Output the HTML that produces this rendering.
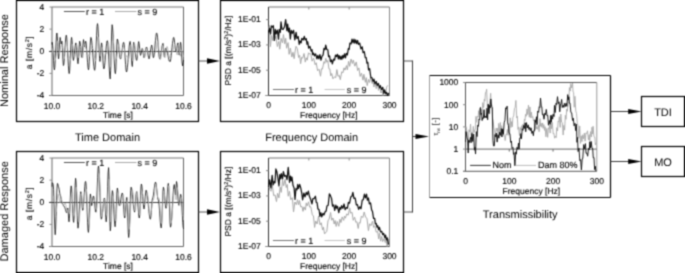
<!DOCTYPE html>
<html><head><meta charset="utf-8"><style>
html,body{margin:0;padding:0;background:#fff;}
svg{display:block;font-family:"Liberation Sans", sans-serif;text-rendering:geometricPrecision;}
text{stroke:#000;stroke-width:0.12px;}
text.big{stroke:none;}
</style></head><body>
<svg width="685" height="273" viewBox="0 0 685 273" xmlns="http://www.w3.org/2000/svg">
<defs><filter id="bl" filterUnits="userSpaceOnUse" x="0" y="0" width="685" height="273" color-interpolation-filters="sRGB"><feConvolveMatrix order="3" kernelMatrix="0.0400 0.1200 0.0400 0.1200 0.3600 0.1200 0.0400 0.1200 0.0400" edgeMode="duplicate"/></filter></defs>
<g filter="url(#bl)">
<rect width="685" height="273" fill="#fff"/>
<rect x="16.5" y="0.5" width="182.0" height="121.0" fill="none" stroke="#000" stroke-width="1.2"/>
<rect x="220.5" y="0.5" width="183.0" height="121.0" fill="none" stroke="#000" stroke-width="1.2"/>
<rect x="16.5" y="151.5" width="182.0" height="121.0" fill="none" stroke="#000" stroke-width="1.2"/>
<rect x="220.5" y="151.5" width="183.0" height="121.0" fill="none" stroke="#000" stroke-width="1.2"/>
<line x1="429.5" y1="75.5" x2="610.5" y2="75.5" stroke="#000" stroke-width="1.2"/>
<line x1="610.5" y1="75.5" x2="610.5" y2="197.5" stroke="#000" stroke-width="1.2"/>
<line x1="429.5" y1="197.5" x2="610.5" y2="197.5" stroke="#000" stroke-width="1.2"/>
<line x1="429.5" y1="75.5" x2="429.5" y2="197.5" stroke="#999" stroke-width="1"/>
<rect x="641.5" y="96.5" width="43.0" height="30.0" fill="none" stroke="#000" stroke-width="1.2"/>
<rect x="641.5" y="146.5" width="43.0" height="30.0" fill="none" stroke="#000" stroke-width="1.2"/>
<line x1="198.5" y1="61" x2="208" y2="61" stroke="#555" stroke-width="1"/>
<path d="M207,58.2 L220,61 L207,63.8 Z" fill="#000"/>
<line x1="198.5" y1="212" x2="208" y2="212" stroke="#555" stroke-width="1"/>
<path d="M207,209.2 L220,212 L207,214.8 Z" fill="#000"/>
<line x1="403.5" y1="61" x2="412.5" y2="61" stroke="#555" stroke-width="1"/>
<line x1="403.5" y1="212" x2="412.5" y2="212" stroke="#555" stroke-width="1"/>
<line x1="412.5" y1="60.5" x2="412.5" y2="212.5" stroke="#3a3a3a" stroke-width="1"/>
<line x1="412.5" y1="136.5" x2="416.5" y2="136.5" stroke="#3a3a3a" stroke-width="1"/>
<path d="M415.5,133.9 L429,136.5 L415.5,139.1 Z" fill="#000"/>
<line x1="610.5" y1="111.5" x2="629.2" y2="111.5" stroke="#3a3a3a" stroke-width="1"/>
<path d="M628.2,108.9 L641.6,111.5 L628.2,114.1 Z" fill="#000"/>
<line x1="610.5" y1="161.5" x2="629.2" y2="161.5" stroke="#3a3a3a" stroke-width="1"/>
<path d="M628.2,158.9 L641.6,161.5 L628.2,164.1 Z" fill="#000"/>
<text class="big" transform="translate(7.9,60.5) rotate(-90)" font-size="11" text-anchor="middle" fill="#000">Nominal Response</text>
<text class="big" transform="translate(7.9,211.3) rotate(-90)" font-size="11" text-anchor="middle" fill="#000">Damaged Response</text>
<text class="big" x="107.5" y="140.8" font-size="11" text-anchor="middle" fill="#000" >Time Domain</text>
<text class="big" x="311.7" y="140.8" font-size="11" text-anchor="middle" fill="#000" >Frequency Domain</text>
<text class="big" x="520.2" y="218.1" font-size="11" text-anchor="middle" fill="#000" >Transmissibility</text>
<text class="big" x="663" y="115.5" font-size="11" text-anchor="middle" fill="#000" >TDI</text>
<text class="big" x="663" y="165.5" font-size="11" text-anchor="middle" fill="#000" >MO</text>
<line x1="52.0" y1="7.0" x2="183.5" y2="7.0" stroke="#777" stroke-width="1"/>
<line x1="52.0" y1="7.0" x2="52.0" y2="95.5" stroke="#666" stroke-width="1"/>
<line x1="183.5" y1="7.0" x2="183.5" y2="95.5" stroke="#666" stroke-width="1"/>
<line x1="49.0" y1="95.5" x2="183.5" y2="95.5" stroke="#666" stroke-width="1"/>
<line x1="49.5" y1="7.0" x2="52.0" y2="7.0" stroke="#8a8a8a" stroke-width="1"/>
<text x="44.3" y="9.9" font-size="8.5" text-anchor="end" fill="#000" >4</text>
<line x1="49.5" y1="29.125" x2="52.0" y2="29.125" stroke="#8a8a8a" stroke-width="1"/>
<text x="44.3" y="32.025" font-size="8.5" text-anchor="end" fill="#000" >2</text>
<line x1="49.5" y1="51.25" x2="52.0" y2="51.25" stroke="#8a8a8a" stroke-width="1"/>
<text x="44.3" y="54.15" font-size="8.5" text-anchor="end" fill="#000" >0</text>
<line x1="49.5" y1="73.375" x2="52.0" y2="73.375" stroke="#8a8a8a" stroke-width="1"/>
<text x="44.3" y="76.275" font-size="8.5" text-anchor="end" fill="#000" >-2</text>
<line x1="49.5" y1="95.5" x2="52.0" y2="95.5" stroke="#8a8a8a" stroke-width="1"/>
<text x="44.3" y="98.4" font-size="8.5" text-anchor="end" fill="#000" >-4</text>
<text x="52.0" y="108.7" font-size="8.5" text-anchor="middle" fill="#000" >10.0</text>
<text x="95.83333333333334" y="108.7" font-size="8.5" text-anchor="middle" fill="#000" >10.2</text>
<text x="139.66666666666669" y="108.7" font-size="8.5" text-anchor="middle" fill="#000" >10.4</text>
<text x="183.5" y="108.7" font-size="8.5" text-anchor="middle" fill="#000" >10.6</text>
<text x="118.0" y="118.4" font-size="8.5" text-anchor="middle" fill="#000" >Time [s]</text>
<text transform="translate(32.4,52.75) rotate(-90)" font-size="8.5" text-anchor="middle" fill="#000" textLength="33" lengthAdjust="spacing">a [m/s<tspan font-size="5.5" dy="-3">2</tspan><tspan dy="3">]</tspan></text>
<line x1="63.9" y1="11.5" x2="84.8" y2="11.5" stroke="#555" stroke-width="1"/>
<text x="86.0" y="14.8" font-size="9" text-anchor="start" fill="#000" >r = 1</text>
<line x1="115" y1="11.5" x2="136.5" y2="11.5" stroke="#aaa" stroke-width="1"/>
<text x="137.6" y="14.8" font-size="9" text-anchor="start" fill="#000" >s = 9</text>
<line x1="49.0" y1="51.5" x2="183.5" y2="51.5" stroke="#444" stroke-width="1"/>
<polyline points="52.00,44.53 52.10,43.65 52.20,42.30 52.64,45.19 53.08,51.80 53.52,60.30 53.96,67.36 54.40,69.80 54.82,67.33 55.23,60.57 55.65,51.40 56.07,42.20 56.48,35.07 56.90,33.00 57.33,36.78 57.75,46.31 58.17,55.02 58.60,58.80 59.10,53.88 59.60,42.75 60.10,37.40 60.65,40.72 61.20,44.00 61.55,42.60 61.90,41.21 62.40,47.38 62.90,59.73 63.40,65.53 63.81,64.38 64.23,60.12 64.64,53.27 65.06,47.13 65.47,40.98 65.89,36.54 66.30,35.20 66.71,37.10 67.13,42.55 67.54,50.13 67.96,58.67 68.37,65.77 68.79,71.70 69.20,73.60 69.68,70.55 70.16,61.09 70.64,49.91 71.12,40.48 71.60,37.40 72.05,40.77 72.50,48.53 72.95,57.03 73.40,60.40 73.88,58.09 74.36,54.35 74.84,48.95 75.32,45.27 75.80,42.90 76.24,44.84 76.68,50.25 77.12,56.19 77.56,61.26 78.00,63.73 78.42,59.98 78.85,52.20 79.28,44.58 79.70,41.20 80.14,42.78 80.58,46.25 81.02,52.00 81.46,56.12 81.90,57.46 82.43,53.18 82.97,44.12 83.50,39.60 84.05,43.30 84.60,47.00 85.15,43.56 85.70,41.20 86.17,43.12 86.63,48.98 87.10,55.50 87.57,62.65 88.03,67.70 88.50,69.80 88.90,67.63 89.30,61.22 89.70,53.60 90.10,45.50 90.50,40.01 90.90,37.40 91.32,38.39 91.74,40.72 92.17,45.62 92.59,50.99 93.01,57.31 93.43,62.07 93.86,66.45 94.28,69.24 94.70,70.30 95.17,67.17 95.63,58.70 96.10,46.95 96.57,35.28 97.03,26.51 97.50,23.60 97.92,26.14 98.33,33.05 98.75,42.55 99.17,52.02 99.58,58.52 100.00,61.50 100.53,56.85 101.07,46.90 101.60,42.90 102.04,45.41 102.48,52.50 102.92,60.11 103.36,66.69 103.80,68.83 104.20,68.32 104.60,65.80 105.00,62.32 105.40,57.18 105.80,52.12 106.20,46.97 106.60,43.50 107.00,40.98 107.40,40.76 107.87,42.68 108.33,49.72 108.80,59.90 109.27,68.97 109.73,76.02 110.20,78.96 110.67,70.71 111.15,51.65 111.62,32.96 112.10,24.70 112.51,26.58 112.92,32.06 113.34,39.98 113.75,49.45 114.16,59.24 114.58,66.95 114.99,72.32 115.40,73.67 115.88,69.05 116.35,56.60 116.83,44.12 117.30,39.00 117.74,39.98 118.19,43.19 118.63,46.70 119.07,51.10 119.51,54.65 119.96,57.82 120.40,58.80 120.81,58.76 121.23,56.38 121.64,53.71 122.05,51.09 122.46,47.39 122.88,44.72 123.29,42.80 123.70,42.30 124.17,44.29 124.63,49.54 125.10,57.15 125.57,64.57 126.03,69.94 126.50,72.00 126.95,70.84 127.40,67.39 127.85,62.62 128.30,56.80 128.75,51.68 129.20,46.05 129.65,42.76 130.10,41.44 130.54,43.98 130.98,50.20 131.42,57.23 131.86,64.12 132.30,66.50 132.73,59.88 133.17,48.35 133.60,42.30 134.04,43.50 134.49,45.71 134.93,49.34 135.37,54.05 135.81,56.99 136.26,59.50 136.70,60.39 137.10,58.60 137.50,53.90 137.90,48.08 138.30,43.40 138.70,41.60 139.15,43.63 139.60,48.30 140.05,53.04 140.50,55.35 140.97,54.03 141.45,51.70 141.93,48.98 142.40,48.40 142.93,50.73 143.47,55.53 144.00,57.70 144.42,56.98 144.83,55.10 145.25,52.35 145.67,49.68 146.08,47.89 146.50,47.00 146.92,47.79 147.33,49.50 147.75,52.90 148.17,55.85 148.58,57.55 149.00,58.80 149.45,57.88 149.90,55.14 150.35,51.90 150.80,48.45 151.25,46.52 151.70,45.00 152.12,46.86 152.55,51.14 152.97,55.84 153.40,57.70 153.81,56.90 154.22,54.08 154.64,50.08 155.05,45.08 155.46,40.62 155.88,36.62 156.29,33.38 156.70,33.00 157.13,34.28 157.56,37.25 157.99,43.03 158.41,48.77 158.84,54.38 159.27,57.52 159.70,58.80 160.11,58.60 160.52,56.54 160.94,54.05 161.35,50.92 161.76,48.15 162.18,45.66 162.59,44.24 163.00,43.40 163.47,46.82 163.93,53.92 164.40,57.10 164.95,52.45 165.50,48.36 165.91,48.08 166.32,48.89 166.73,50.81 167.14,51.80 167.55,53.68 167.95,55.49 168.36,57.50 168.77,59.14 169.18,61.10 169.59,61.22 170.00,61.50 170.41,61.42 170.82,58.68 171.23,55.48 171.64,51.67 172.06,47.36 172.47,43.42 172.88,40.76 173.29,38.13 173.70,37.40 174.16,38.78 174.62,42.44 175.08,46.96 175.54,50.43 176.00,52.00 176.42,51.07 176.84,48.29 177.26,45.65 177.68,43.23 178.10,42.83 178.65,48.65 179.20,55.00 179.67,51.35 180.13,45.48 180.60,42.30 181.07,45.08 181.55,53.85 182.03,62.02 182.50,65.83 183.05,62.70 183.60,60.00" fill="none" stroke="#111" stroke-width="0.8" stroke-linejoin="round"/>
<polyline points="52.00,53.35 52.46,52.36 52.92,48.81 53.37,47.80 53.83,50.12 54.25,53.98 54.67,57.61 55.09,59.72 55.51,59.66 55.93,57.38 56.35,53.50 56.77,48.63 57.20,43.91 57.63,40.85 58.05,41.02 58.48,44.49 58.99,50.48 59.51,54.08 60.02,52.22 60.49,47.96 60.96,45.27 61.42,44.92 61.89,45.51 62.31,45.23 62.72,46.51 63.14,50.43 63.56,56.17 63.97,59.16 64.39,58.74 64.81,55.46 65.24,50.78 65.66,46.05 66.08,42.51 66.52,41.08 66.96,42.27 67.40,45.66 67.84,50.33 68.29,54.87 68.72,57.01 69.15,56.78 69.59,57.09 70.01,58.91 70.44,60.28 70.86,58.18 71.28,53.35 71.70,48.53 72.12,45.11 72.54,44.16 72.96,46.10 73.42,50.74 73.89,55.41 74.36,57.72 74.83,57.20 75.25,54.60 75.67,50.82 76.09,47.09 76.52,44.71 76.94,44.88 77.40,47.81 77.86,52.12 78.31,56.08 78.77,58.01 79.23,56.48 79.65,52.57 80.08,48.46 80.50,46.14 80.92,45.93 81.34,47.35 81.80,51.24 82.25,56.13 82.70,57.92 83.12,55.56 83.54,50.44 83.96,45.94 84.38,43.63 84.80,44.15 85.30,46.71 85.80,48.09 86.30,49.47 86.80,51.02 87.20,52.41 87.61,53.74 88.02,54.86 88.43,55.69 88.83,56.19 89.24,56.32 89.69,55.27 90.13,53.10 90.58,50.58 91.03,48.61 91.47,47.92 91.92,48.36 92.45,48.47 92.98,48.45 93.52,50.27 93.92,52.96 94.33,55.88 94.74,58.58 95.15,60.57 95.56,61.16 95.96,59.71 96.38,55.31 96.80,48.68 97.22,42.05 97.64,37.67 98.08,36.85 98.52,39.69 98.96,44.82 99.39,50.05 99.83,54.00 100.26,56.07 100.70,55.75 101.13,52.75 101.57,49.24 101.97,47.28 102.38,47.26 102.78,49.78 103.18,53.57 103.59,57.33 104.02,59.29 104.46,58.06 104.90,55.27 105.33,52.94 105.80,52.22 106.27,53.07 106.74,53.90 107.21,53.12 107.65,49.62 108.09,44.87 108.53,43.83 108.94,47.01 109.35,52.05 109.76,57.86 110.18,63.14 110.59,66.73 111.00,67.33 111.43,62.40 111.87,51.95 112.30,41.49 112.74,36.94 113.24,38.56 113.74,44.36 114.24,51.59 114.73,57.81 115.17,60.23 115.61,59.89 116.04,59.49 116.45,58.77 116.86,56.95 117.27,54.29 117.68,51.41 118.11,47.91 118.55,44.46 118.98,43.75 119.40,46.63 119.83,51.25 120.25,55.65 120.68,57.94 121.13,57.68 121.59,55.56 122.05,52.44 122.51,49.30 122.97,47.07 123.44,46.35 123.90,47.26 124.37,49.25 124.84,52.04 125.31,55.17 125.75,56.89 126.19,56.70 126.63,55.80 127.07,55.61 127.51,56.76 127.95,58.62 128.39,59.70 128.84,58.52 129.33,54.71 129.83,49.97 130.33,46.03 130.83,44.60 131.24,46.58 131.66,51.56 132.07,57.12 132.49,60.81 132.95,60.91 133.40,55.36 133.86,46.63 134.32,42.60 134.82,44.21 135.32,48.12 135.82,52.51 136.32,55.48 136.78,56.16 137.24,55.12 137.70,52.92 138.16,50.08 138.63,48.53 139.11,49.28 139.58,50.49 140.00,51.02 140.41,51.20 140.83,50.73 141.24,49.62 141.66,48.55 142.12,48.09 142.59,48.53 143.05,50.06 143.51,52.82 143.97,55.87 144.44,57.69 144.89,57.11 145.34,54.17 145.79,50.72 146.25,48.47 146.69,48.62 147.14,50.53 147.58,51.99 148.03,52.60 148.48,53.02 148.93,53.16 149.38,53.05 149.83,52.82 150.25,52.54 150.68,52.16 151.10,51.74 151.52,51.33 151.94,51.02 152.36,50.90 152.78,50.93 153.19,51.14 153.60,51.49 154.01,51.84 154.42,52.25 154.84,52.70 155.25,52.87 155.66,52.31 156.07,50.76 156.50,47.96 156.92,44.52 157.35,41.87 157.78,41.47 158.21,43.43 158.64,46.96 159.07,51.27 159.50,55.38 159.92,58.35 160.35,59.51 160.80,58.45 161.25,55.37 161.70,51.33 162.15,47.64 162.60,45.41 163.08,45.56 163.57,48.10 164.05,52.26 164.53,56.34 164.99,57.60 165.44,55.12 165.89,51.25 166.35,48.00 166.80,46.69 167.26,46.64 167.67,48.00 168.09,50.57 168.51,53.62 168.93,56.25 169.35,57.70 169.81,57.46 170.27,55.66 170.72,53.54 171.18,52.14 171.64,51.78 172.10,52.04 172.56,52.01 173.02,50.81 173.48,48.70 173.95,46.51 174.41,44.71 174.87,43.98 175.33,44.62 175.80,46.28 176.26,49.60 176.71,53.64 177.17,54.82 177.63,51.76 178.08,46.73 178.54,43.97 178.95,45.29 179.36,49.53 179.77,54.28 180.18,56.18 180.60,55.03 181.03,52.31 181.47,50.32 181.90,50.20 182.34,51.88 182.78,54.37 183.14,56.51 183.50,57.04" fill="none" stroke="#b0b0b0" stroke-width="0.85" stroke-linejoin="round"/>
<line x1="268.5" y1="7.0" x2="389.5" y2="7.0" stroke="#777" stroke-width="1"/>
<line x1="268.5" y1="7.0" x2="268.5" y2="96.0" stroke="#333" stroke-width="1"/>
<line x1="389.5" y1="7.0" x2="389.5" y2="95.5" stroke="#888" stroke-width="1"/>
<line x1="265.5" y1="95.5" x2="389.5" y2="95.5" stroke="#444" stroke-width="1"/>
<line x1="266.0" y1="19.642857142857142" x2="268.5" y2="19.642857142857142" stroke="#8a8a8a" stroke-width="1"/>
<text x="260.8" y="22.142857142857142" font-size="8.5" text-anchor="end" fill="#000" >1E-01</text>
<line x1="266.0" y1="44.92857142857143" x2="268.5" y2="44.92857142857143" stroke="#8a8a8a" stroke-width="1"/>
<text x="260.8" y="47.42857142857143" font-size="8.5" text-anchor="end" fill="#000" >1E-03</text>
<line x1="266.0" y1="70.21428571428571" x2="268.5" y2="70.21428571428571" stroke="#8a8a8a" stroke-width="1"/>
<text x="260.8" y="72.71428571428571" font-size="8.5" text-anchor="end" fill="#000" >1E-05</text>
<line x1="266.0" y1="95.5" x2="268.5" y2="95.5" stroke="#8a8a8a" stroke-width="1"/>
<text x="260.8" y="98.0" font-size="8.5" text-anchor="end" fill="#000" >1E-07</text>
<text x="268.5" y="108.4" font-size="8.5" text-anchor="middle" fill="#000" >0</text>
<text x="308.8333333333333" y="108.4" font-size="8.5" text-anchor="middle" fill="#000" >100</text>
<line x1="308.8333333333333" y1="7.0" x2="308.8333333333333" y2="9.5" stroke="#8a8a8a" stroke-width="1"/>
<text x="349.1666666666667" y="108.4" font-size="8.5" text-anchor="middle" fill="#000" >200</text>
<line x1="349.1666666666667" y1="7.0" x2="349.1666666666667" y2="9.5" stroke="#8a8a8a" stroke-width="1"/>
<text x="389.5" y="108.4" font-size="8.5" text-anchor="middle" fill="#000" >300</text>
<text x="328.8" y="117.5" font-size="8.5" text-anchor="middle" fill="#000" >Frequency [Hz]</text>
<text transform="translate(230.7,50.6) rotate(-90)" font-size="8.5" text-anchor="middle" fill="#000">PSD a [(m/s<tspan font-size="5.5" dy="-3">2</tspan><tspan dy="3">)</tspan><tspan font-size="5.5" dy="-3">2</tspan><tspan dy="3">/Hz]</tspan></text>
<line x1="272.9" y1="89.5" x2="294" y2="89.5" stroke="#777" stroke-width="1"/>
<text x="295.0" y="93.1" font-size="9" text-anchor="start" fill="#000" >r = 1</text>
<line x1="324.6" y1="89.5" x2="344.8" y2="89.5" stroke="#c4c4c4" stroke-width="1"/>
<text x="346.8" y="93.1" font-size="9" text-anchor="start" fill="#000" >s = 9</text>
<polyline points="268.50,29.93 269.41,25.28 270.37,46.62 271.50,35.42 272.91,40.72 273.91,33.12 274.95,39.13 275.87,36.13 277.37,46.56 278.80,41.27 279.77,49.17 281.07,38.35 282.52,42.85 283.42,34.56 284.75,43.74 285.72,38.32 286.62,48.22 288.08,42.61 289.14,54.35 290.39,48.12 291.84,57.03 292.98,52.31 294.13,58.67 295.19,50.95 296.06,46.34 297.35,48.66 298.58,57.48 299.66,55.39 300.64,63.69 301.63,57.38 302.67,58.15 304.05,53.50 305.29,62.10 306.20,57.74 307.21,60.20 308.49,52.81 309.57,54.02 310.74,53.65 312.08,61.16 313.61,58.04 315.14,64.69 316.19,62.74 317.59,70.72 319.10,69.19 320.53,76.19 321.51,68.77 322.45,69.03 323.98,61.61 324.83,63.37 325.79,58.33 326.89,62.25 327.80,60.40 328.95,68.84 329.83,68.96 330.79,75.82 331.74,73.52 332.93,78.79 334.49,76.83 335.71,77.73 336.85,69.60 338.03,76.29 339.17,75.28 340.31,79.64 341.79,71.74 342.99,72.77 344.01,67.87 345.00,70.14 346.47,65.61 347.35,69.84 348.59,61.33 349.72,66.33 351.03,59.07 352.41,63.46 353.32,60.00 354.79,66.15 356.29,61.94 357.60,70.53 358.91,67.93 360.13,76.41 361.46,73.19 362.97,80.14 363.86,74.30 365.39,82.30 366.26,77.62 367.20,85.57 368.52,79.38 369.48,82.46 370.73,77.82 372.23,83.54 373.08,79.83 373.93,86.99 374.85,81.35 376.25,88.57 377.49,83.25 378.47,90.35 379.55,85.96 380.95,93.00 382.17,90.68 383.03,95.44 384.22,91.09 385.50,93.61 386.60,87.19 387.82,85.35" fill="none" stroke="#a8a8a8" stroke-width="1.0" stroke-linejoin="round"/>
<polyline points="268.50,32.61 269.53,28.41 270.59,33.83 271.33,25.93 272.53,27.03 273.37,25.70 274.35,40.39 275.34,29.28 276.13,33.91 277.35,30.07 278.50,39.12 279.23,29.50 280.29,32.32 281.01,21.86 281.99,29.18 283.22,29.28 284.47,27.00 285.65,19.67 286.91,30.66 287.67,24.19 288.50,31.95 289.46,28.15 290.34,39.00 291.27,30.47 292.33,33.26 293.57,30.36 294.83,39.98 296.12,32.27 296.92,38.45 298.20,36.58 299.24,44.47 300.07,41.00 301.11,42.89 301.85,38.26 303.14,39.97 304.32,36.39 305.11,39.94 306.27,38.60 307.00,44.25 307.73,41.75 308.63,48.20 309.91,46.34 311.21,51.19 311.96,49.66 312.68,54.54 313.62,53.07 314.42,55.83 315.64,53.96 316.91,58.94 317.84,55.43 318.85,58.92 319.91,54.53 320.98,60.20 321.98,56.29 323.12,54.86 324.00,48.34 325.01,49.58 325.72,45.13 326.77,49.50 327.83,49.74 328.57,56.68 329.55,55.88 330.46,61.55 331.60,59.94 332.34,63.79 333.62,59.16 334.59,60.04 335.48,55.11 336.37,56.54 337.43,54.37 338.36,58.97 339.07,55.50 340.21,59.22 341.05,56.17 341.89,59.27 342.85,55.32 343.61,57.97 344.51,53.76 345.48,57.91 346.28,53.49 347.37,54.96 348.34,48.59 349.11,49.38 349.93,43.02 351.13,43.93 352.00,39.11 353.08,42.90 353.99,39.13 354.86,43.21 355.73,39.96 356.68,43.63 357.62,40.48 358.41,44.41 359.68,43.06 360.97,48.87 362.24,46.80 363.08,52.73 364.28,51.59 365.29,57.54 366.19,57.55 366.94,63.10 367.81,62.34 368.53,69.89 369.65,68.72 370.89,77.75 371.93,77.57 373.08,81.28 373.96,79.18 374.98,83.69 376.24,81.49 377.15,85.32 378.36,83.49 379.53,87.89 380.35,85.69 381.54,89.67 382.72,87.38 383.90,93.37 384.60,89.84 385.82,93.83 386.68,92.45 387.70,95.50 388.68,92.98" fill="none" stroke="#111" stroke-width="1.25" stroke-linejoin="round"/>
<line x1="52.0" y1="158.0" x2="183.5" y2="158.0" stroke="#777" stroke-width="1"/>
<line x1="52.0" y1="158.0" x2="52.0" y2="246.5" stroke="#666" stroke-width="1"/>
<line x1="183.5" y1="158.0" x2="183.5" y2="246.5" stroke="#666" stroke-width="1"/>
<line x1="49.0" y1="246.5" x2="183.5" y2="246.5" stroke="#666" stroke-width="1"/>
<line x1="49.5" y1="158.0" x2="52.0" y2="158.0" stroke="#8a8a8a" stroke-width="1"/>
<text x="44.3" y="160.9" font-size="8.5" text-anchor="end" fill="#000" >4</text>
<line x1="49.5" y1="180.125" x2="52.0" y2="180.125" stroke="#8a8a8a" stroke-width="1"/>
<text x="44.3" y="183.025" font-size="8.5" text-anchor="end" fill="#000" >2</text>
<line x1="49.5" y1="202.25" x2="52.0" y2="202.25" stroke="#8a8a8a" stroke-width="1"/>
<text x="44.3" y="205.15" font-size="8.5" text-anchor="end" fill="#000" >0</text>
<line x1="49.5" y1="224.375" x2="52.0" y2="224.375" stroke="#8a8a8a" stroke-width="1"/>
<text x="44.3" y="227.275" font-size="8.5" text-anchor="end" fill="#000" >-2</text>
<line x1="49.5" y1="246.5" x2="52.0" y2="246.5" stroke="#8a8a8a" stroke-width="1"/>
<text x="44.3" y="249.4" font-size="8.5" text-anchor="end" fill="#000" >-4</text>
<text x="52.0" y="259.7" font-size="8.5" text-anchor="middle" fill="#000" >10.0</text>
<text x="95.83333333333334" y="259.7" font-size="8.5" text-anchor="middle" fill="#000" >10.2</text>
<text x="139.66666666666669" y="259.7" font-size="8.5" text-anchor="middle" fill="#000" >10.4</text>
<text x="183.5" y="259.7" font-size="8.5" text-anchor="middle" fill="#000" >10.6</text>
<text x="118.0" y="269.4" font-size="8.5" text-anchor="middle" fill="#000" >Time [s]</text>
<text transform="translate(32.4,203.75) rotate(-90)" font-size="8.5" text-anchor="middle" fill="#000" textLength="33" lengthAdjust="spacing">a [m/s<tspan font-size="5.5" dy="-3">2</tspan><tspan dy="3">]</tspan></text>
<line x1="63.9" y1="162.5" x2="84.8" y2="162.5" stroke="#555" stroke-width="1"/>
<text x="86.0" y="165.8" font-size="9" text-anchor="start" fill="#000" >r = 1</text>
<line x1="115" y1="162.5" x2="136.5" y2="162.5" stroke="#aaa" stroke-width="1"/>
<text x="137.6" y="165.8" font-size="9" text-anchor="start" fill="#000" >s = 9</text>
<line x1="49.0" y1="202.5" x2="183.5" y2="202.5" stroke="#444" stroke-width="1"/>
<polyline points="52.00,186.64 52.15,184.35 52.30,182.70 52.75,183.20 53.20,184.70 53.60,189.41 54.00,201.07 54.40,216.97 54.80,229.29 55.20,234.70 55.64,229.17 56.08,216.52 56.52,200.44 56.96,188.23 57.40,183.40 57.83,183.82 58.27,186.25 58.70,187.20 59.23,189.51 59.77,193.50 60.30,195.60 60.72,196.47 61.15,199.30 61.58,201.92 62.00,203.55 62.40,203.29 62.80,204.04 63.20,204.59 63.60,205.71 64.00,206.00 64.45,207.10 64.90,207.70 65.35,209.40 65.80,210.85 66.25,212.34 66.70,212.80 67.25,210.54 67.80,208.00 68.20,211.45 68.60,218.95 69.00,221.80 69.44,218.31 69.88,209.45 70.32,197.91 70.76,188.79 71.20,185.89 71.62,187.83 72.03,194.72 72.45,204.44 72.87,213.57 73.28,220.47 73.70,222.37 74.17,216.45 74.65,200.65 75.12,185.38 75.60,178.30 76.00,181.64 76.40,190.90 76.80,203.25 77.20,215.72 77.60,224.59 78.00,228.20 78.47,225.75 78.93,218.64 79.40,209.95 79.87,200.82 80.33,194.63 80.80,191.70 81.28,194.42 81.75,201.12 82.22,207.58 82.70,210.30 83.11,209.45 83.53,204.75 83.94,198.83 84.36,192.65 84.77,186.35 85.19,182.26 85.60,181.45 86.00,183.36 86.40,190.51 86.80,200.95 87.20,212.34 87.60,222.69 88.00,230.12 88.40,232.40 88.80,228.76 89.20,219.39 89.60,207.46 90.00,197.94 90.40,193.96 90.83,196.97 91.27,202.32 91.70,205.64 92.15,203.68 92.60,200.50 93.05,197.06 93.50,196.00 93.90,197.09 94.30,200.44 94.70,204.10 95.10,208.15 95.50,211.75 95.90,212.20 96.33,209.11 96.77,200.86 97.20,189.10 97.63,177.55 98.07,168.59 98.50,166.00 98.97,169.56 99.43,179.76 99.90,192.60 100.37,205.90 100.83,215.87 101.30,219.20 101.70,218.39 102.10,215.65 102.50,212.66 102.90,208.60 103.30,203.91 103.70,201.10 104.10,198.81 104.50,198.04 104.92,201.49 105.35,209.90 105.78,217.66 106.20,221.80 106.68,216.62 107.16,203.67 107.64,186.33 108.12,172.78 108.60,167.61 109.02,176.86 109.45,199.20 109.88,221.57 110.30,230.80 110.72,226.94 111.14,216.72 111.56,204.36 111.98,194.26 112.40,190.63 112.85,192.85 113.30,199.55 113.75,209.28 114.20,217.85 114.65,224.55 115.10,226.73 115.56,223.28 116.02,213.53 116.48,201.30 116.94,191.72 117.40,188.00 117.85,190.72 118.30,196.90 118.75,203.19 119.20,205.52 119.60,205.31 120.00,203.93 120.40,201.98 120.80,199.40 121.20,196.95 121.60,194.93 122.00,193.49 122.40,193.00 122.86,195.29 123.32,201.64 123.78,209.36 124.24,215.86 124.70,218.00 125.12,216.09 125.54,211.13 125.96,204.91 126.38,199.91 126.80,197.42 127.27,203.78 127.75,217.75 128.22,232.41 128.70,237.50 129.10,234.13 129.50,224.72 129.90,212.35 130.30,199.78 130.70,190.47 131.10,187.20 131.54,188.12 131.97,190.62 132.41,194.70 132.85,199.35 133.29,204.60 133.72,207.94 134.16,210.58 134.60,212.13 135.07,208.60 135.55,201.60 136.03,194.62 136.50,191.70 136.90,193.00 137.30,196.51 137.70,201.92 138.10,207.78 138.50,212.48 138.90,216.70 139.30,218.00 139.72,215.31 140.14,206.25 140.56,195.75 140.98,186.79 141.40,184.00 141.83,185.67 142.27,190.32 142.70,196.50 143.13,202.75 143.57,207.11 144.00,209.00 144.42,207.22 144.84,202.33 145.26,196.83 145.68,192.18 146.10,190.20 146.53,191.10 146.96,193.15 147.39,195.90 147.82,200.35 148.25,204.80 148.68,208.60 149.11,213.26 149.54,216.45 149.97,218.54 150.40,219.20 150.84,217.18 151.28,212.29 151.72,205.32 152.16,200.02 152.60,198.21 153.01,197.21 153.43,195.01 153.84,191.40 154.26,188.28 154.67,185.09 155.09,183.16 155.50,182.10 155.90,182.99 156.30,184.84 156.70,189.06 157.10,193.04 157.50,196.51 157.90,199.11 158.30,200.00 158.71,201.85 159.13,205.27 159.54,210.88 159.96,217.70 160.37,222.73 160.79,226.61 161.20,227.94 161.64,224.10 162.08,213.90 162.52,201.78 162.96,191.10 163.40,187.20 163.83,188.61 164.27,192.47 164.70,197.75 165.13,203.06 165.57,206.89 166.00,208.30 166.46,206.04 166.92,199.70 167.38,192.00 167.84,186.47 168.30,183.40 168.74,187.58 169.18,198.87 169.62,212.07 170.06,223.02 170.50,227.16 170.92,225.92 171.34,222.23 171.77,216.89 172.19,209.64 172.61,202.26 173.03,195.53 173.46,189.67 173.88,185.98 174.30,184.50 174.90,189.85 175.50,195.00 176.00,188.65 176.50,181.50 176.96,183.75 177.42,190.10 177.88,196.95 178.34,202.85 178.80,205.25 179.28,203.52 179.75,199.70 180.22,196.50 180.70,194.30 181.11,196.02 181.53,200.16 181.94,207.79 182.36,215.51 182.77,222.47 183.19,227.28 183.60,229.00" fill="none" stroke="#111" stroke-width="0.8" stroke-linejoin="round"/>
<polyline points="52.00,201.95 52.43,201.48 52.86,199.39 53.29,197.85 53.71,196.36 54.14,196.52 54.57,199.48 55.05,204.81 55.53,209.90 56.01,212.03 56.49,210.17 57.00,204.09 57.50,197.05 58.00,194.21 58.49,195.52 58.98,198.23 59.47,200.91 59.96,202.57 60.46,201.97 60.96,199.63 61.46,198.77 61.93,200.84 62.41,203.95 62.88,205.42 63.32,205.23 63.76,204.41 64.20,204.91 64.63,203.73 65.07,203.17 65.51,203.80 65.94,205.60 66.37,208.18 66.80,210.73 67.23,212.31 67.66,211.37 68.14,208.89 68.62,208.50 69.10,212.39 69.59,213.68 70.03,210.58 70.48,204.53 70.93,197.95 71.38,193.47 71.83,192.68 72.25,195.44 72.67,200.69 73.09,206.99 73.51,212.59 73.93,215.96 74.36,215.22 74.78,210.50 75.19,202.25 75.61,192.69 76.05,187.19 76.48,187.29 76.91,192.59 77.34,201.32 77.77,210.67 78.20,218.10 78.63,221.73 79.06,221.53 79.50,217.40 80.00,208.47 80.50,198.87 81.01,193.24 81.43,193.11 81.84,196.62 82.26,202.33 82.68,207.35 83.12,208.50 83.57,205.57 84.01,201.24 84.48,196.96 84.94,193.44 85.40,190.84 85.87,189.03 86.31,189.15 86.76,192.92 87.21,200.00 87.66,208.73 88.11,217.01 88.56,222.47 88.96,224.51 89.36,222.74 89.76,216.78 90.16,208.56 90.57,201.36 90.97,198.12 91.37,198.76 91.78,201.39 92.18,202.87 92.60,202.33 93.02,200.95 93.44,199.61 93.86,199.10 94.28,199.69 94.74,200.95 95.20,202.52 95.66,205.05 96.09,208.14 96.53,209.88 96.96,207.10 97.42,198.92 97.88,188.52 98.34,179.08 98.80,173.49 99.26,173.60 99.71,178.97 100.15,188.20 100.60,199.01 101.05,208.74 101.50,214.99 101.94,216.82 102.39,214.85 102.84,210.60 103.29,205.54 103.74,201.28 104.21,198.99 104.68,199.29 105.15,201.88 105.61,207.49 106.12,213.80 106.63,215.41 107.13,210.74 107.57,202.60 108.00,193.15 108.44,184.75 108.87,179.39 109.28,179.35 109.69,187.84 110.10,203.41 110.54,217.98 110.99,221.79 111.43,217.17 111.88,208.80 112.33,200.40 112.77,195.71 113.24,195.92 113.70,199.72 114.17,205.73 114.64,212.33 115.10,217.71 115.59,220.71 116.08,219.05 116.56,212.30 117.05,203.23 117.51,195.89 117.96,192.55 118.42,193.67 118.88,197.53 119.34,201.53 119.74,203.68 120.14,204.68 120.55,205.34 120.95,205.13 121.35,203.77 121.76,201.44 122.16,198.71 122.57,196.12 122.97,194.49 123.38,195.07 123.78,198.93 124.24,205.51 124.69,212.16 125.14,216.05 125.60,215.58 126.06,211.09 126.53,205.21 126.99,200.58 127.45,199.99 127.92,205.62 128.38,216.00 128.81,225.05 129.24,229.43 129.67,227.09 130.10,220.02 130.53,210.44 130.97,201.32 131.39,195.07 131.82,192.11 132.25,191.03 132.68,191.55 133.11,194.07 133.52,198.94 133.93,205.10 134.34,209.17 134.81,210.58 135.28,209.33 135.74,204.78 136.21,198.22 136.67,192.97 137.14,191.44 137.56,193.69 137.99,198.42 138.41,204.41 138.84,210.11 139.26,214.08 139.74,214.91 140.22,210.52 140.70,201.77 141.10,195.40 141.51,192.03 141.91,191.07 142.33,191.98 142.75,194.46 143.18,197.81 143.60,201.20 144.02,203.80 144.44,204.96 144.88,204.98 145.32,203.58 145.76,200.01 146.20,195.97 146.65,193.87 147.09,193.54 147.53,194.49 147.98,196.86 148.42,200.85 148.87,206.04 149.32,211.12 149.77,214.80 150.23,215.61 150.70,213.81 151.17,211.61 151.59,208.94 152.01,205.32 152.44,202.06 152.86,200.42 153.28,200.14 153.70,199.33 154.16,196.32 154.61,191.72 155.07,187.21 155.52,184.42 155.94,184.35 156.37,186.68 156.79,190.42 157.22,194.12 157.65,196.96 158.09,198.49 158.52,198.59 158.96,198.16 159.39,199.64 159.88,205.57 160.36,214.23 160.85,221.04 161.26,223.57 161.68,223.21 162.10,218.58 162.52,209.93 162.93,200.29 163.39,192.54 163.84,190.66 164.30,193.36 164.75,197.23 165.20,200.35 165.64,202.44 166.08,204.41 166.54,206.39 167.00,206.43 167.45,202.57 167.86,196.44 168.26,190.00 168.66,185.70 169.06,186.21 169.52,193.80 169.98,206.08 170.43,217.66 170.89,223.42 171.33,223.11 171.77,219.56 172.21,213.92 172.65,207.10 173.10,200.17 173.54,194.16 173.94,190.54 174.35,189.35 174.76,190.27 175.16,194.22 175.57,197.56 176.03,199.76 176.49,193.89 176.95,187.66 177.41,187.33 177.87,190.62 178.33,195.84 178.82,201.57 179.32,205.15 179.81,205.46 180.30,203.08 180.74,199.94 181.17,197.63 181.61,197.44 182.05,200.29 182.49,205.63 182.99,213.60 183.50,220.12" fill="none" stroke="#b0b0b0" stroke-width="0.85" stroke-linejoin="round"/>
<line x1="268.5" y1="158.0" x2="389.5" y2="158.0" stroke="#777" stroke-width="1"/>
<line x1="268.5" y1="158.0" x2="268.5" y2="247.0" stroke="#333" stroke-width="1"/>
<line x1="389.5" y1="158.0" x2="389.5" y2="246.5" stroke="#888" stroke-width="1"/>
<line x1="265.5" y1="246.5" x2="389.5" y2="246.5" stroke="#444" stroke-width="1"/>
<line x1="266.0" y1="170.64285714285714" x2="268.5" y2="170.64285714285714" stroke="#8a8a8a" stroke-width="1"/>
<text x="260.8" y="173.14285714285714" font-size="8.5" text-anchor="end" fill="#000" >1E-01</text>
<line x1="266.0" y1="195.92857142857144" x2="268.5" y2="195.92857142857144" stroke="#8a8a8a" stroke-width="1"/>
<text x="260.8" y="198.42857142857144" font-size="8.5" text-anchor="end" fill="#000" >1E-03</text>
<line x1="266.0" y1="221.21428571428572" x2="268.5" y2="221.21428571428572" stroke="#8a8a8a" stroke-width="1"/>
<text x="260.8" y="223.71428571428572" font-size="8.5" text-anchor="end" fill="#000" >1E-05</text>
<line x1="266.0" y1="246.5" x2="268.5" y2="246.5" stroke="#8a8a8a" stroke-width="1"/>
<text x="260.8" y="249.0" font-size="8.5" text-anchor="end" fill="#000" >1E-07</text>
<text x="268.5" y="259.4" font-size="8.5" text-anchor="middle" fill="#000" >0</text>
<text x="308.8333333333333" y="259.4" font-size="8.5" text-anchor="middle" fill="#000" >100</text>
<line x1="308.8333333333333" y1="158.0" x2="308.8333333333333" y2="160.5" stroke="#8a8a8a" stroke-width="1"/>
<text x="349.1666666666667" y="259.4" font-size="8.5" text-anchor="middle" fill="#000" >200</text>
<line x1="349.1666666666667" y1="158.0" x2="349.1666666666667" y2="160.5" stroke="#8a8a8a" stroke-width="1"/>
<text x="389.5" y="259.4" font-size="8.5" text-anchor="middle" fill="#000" >300</text>
<text x="328.8" y="268.5" font-size="8.5" text-anchor="middle" fill="#000" >Frequency [Hz]</text>
<text transform="translate(230.7,201.6) rotate(-90)" font-size="8.5" text-anchor="middle" fill="#000">PSD a [(m/s<tspan font-size="5.5" dy="-3">2</tspan><tspan dy="3">)</tspan><tspan font-size="5.5" dy="-3">2</tspan><tspan dy="3">/Hz]</tspan></text>
<line x1="272.9" y1="240.5" x2="294" y2="240.5" stroke="#777" stroke-width="1"/>
<text x="295.0" y="244.1" font-size="9" text-anchor="start" fill="#000" >r = 1</text>
<line x1="324.6" y1="240.5" x2="344.8" y2="240.5" stroke="#c4c4c4" stroke-width="1"/>
<text x="346.8" y="244.1" font-size="9" text-anchor="start" fill="#000" >s = 9</text>
<polyline points="268.50,185.39 269.93,189.99 270.96,191.25 272.28,184.37 273.66,195.64 275.06,194.92 276.48,201.60 277.61,193.26 278.95,197.91 280.18,187.06 281.22,192.38 282.55,180.13 283.63,185.74 285.05,179.24 286.21,187.53 287.19,184.46 288.24,196.20 289.50,191.30 290.81,199.79 292.33,197.64 293.54,211.94 294.88,202.01 296.42,204.71 297.52,199.70 298.58,204.78 299.49,200.44 300.70,206.80 302.02,206.53 303.00,211.38 303.94,206.88 305.41,210.08 306.25,202.88 307.11,205.95 308.60,201.82 309.66,207.10 310.78,206.71 312.34,214.84 313.48,216.02 314.61,227.42 315.63,220.97 317.11,223.96 318.59,216.01 320.03,224.85 321.24,222.77 322.59,229.99 323.49,227.23 324.52,233.91 325.93,232.12 326.78,231.55 328.05,220.24 329.07,219.51 330.58,212.49 331.71,220.28 332.99,218.01 334.18,224.01 335.12,220.46 336.18,226.43 337.25,221.46 338.79,226.28 339.90,219.18 340.97,222.56 342.16,216.91 343.68,220.42 344.52,216.03 345.40,218.17 346.80,213.88 348.16,215.23 349.67,207.87 350.56,213.16 352.08,212.38 353.22,220.30 354.65,217.23 355.83,222.30 356.93,221.73 358.22,228.48 359.16,222.43 360.07,223.31 361.38,216.05 362.86,217.55 364.21,212.00 365.65,217.33 366.93,218.24 368.43,230.61 369.59,223.79 371.00,225.66 372.52,221.20 373.68,227.46 374.84,225.67 376.19,232.16 377.61,231.21 378.66,238.88 379.56,233.10 380.60,241.14 381.75,236.39 382.61,241.63 384.04,238.55 385.26,242.53 386.23,240.24 387.11,246.50 388.50,238.74" fill="none" stroke="#a8a8a8" stroke-width="1.0" stroke-linejoin="round"/>
<polyline points="268.50,187.12 269.65,179.96 270.91,187.98 272.16,175.39 273.14,184.77 274.23,181.52 275.00,182.81 275.85,168.94 276.89,171.83 277.72,177.20 278.97,185.90 279.77,174.51 280.55,178.81 281.33,173.71 282.55,179.01 283.38,171.60 284.60,176.33 285.88,175.51 286.99,179.67 288.25,167.26 289.53,182.30 290.41,176.12 291.21,180.95 291.95,176.99 293.01,185.24 294.12,188.15 295.00,199.40 295.99,188.62 296.98,189.85 297.72,184.49 298.43,188.45 299.64,184.31 300.81,188.26 301.86,193.65 302.58,199.80 303.86,193.04 305.01,196.93 306.28,192.36 307.19,194.88 308.35,191.08 309.50,196.62 310.72,199.48 311.99,203.97 312.89,198.73 314.14,198.51 315.40,196.18 316.28,202.33 317.09,202.70 317.88,208.70 319.18,210.05 319.91,216.33 320.93,212.74 321.77,216.84 322.96,213.33 323.92,215.03 325.17,211.77 326.16,210.92 326.94,206.08 328.21,205.31 329.38,193.84 330.35,195.37 331.55,198.38 332.52,206.11 333.74,204.94 334.71,210.32 335.85,205.13 336.72,208.23 337.51,206.40 338.80,212.59 339.88,207.38 340.78,209.27 341.64,205.66 342.86,208.33 344.04,203.99 345.15,209.63 346.31,207.53 347.43,208.24 348.42,202.42 349.54,203.12 350.80,196.90 351.85,196.49 352.88,192.44 353.98,198.41 355.17,198.15 356.35,204.97 357.44,204.64 358.64,209.31 359.84,206.84 360.95,208.81 362.23,200.14 363.25,199.77 364.45,194.14 365.43,197.80 366.57,194.22 367.37,200.18 368.42,197.95 369.37,203.81 370.53,202.87 371.67,210.04 372.46,211.32 373.55,218.36 374.66,218.35 375.39,223.89 376.23,223.48 377.01,227.16 377.81,225.74 378.54,229.64 379.46,227.42 380.52,231.90 381.76,231.32 382.70,234.65 383.65,233.46 384.85,237.57 385.57,235.17 386.33,239.85 387.23,237.78 388.51,244.52" fill="none" stroke="#111" stroke-width="1.25" stroke-linejoin="round"/>
<line x1="463.0" y1="82.5" x2="596.8" y2="82.5" stroke="#555" stroke-width="1"/>
<line x1="465.5" y1="82.5" x2="465.5" y2="171.3" stroke="#555" stroke-width="1"/>
<line x1="596.8" y1="82.5" x2="596.8" y2="171.3" stroke="#999" stroke-width="1"/>
<line x1="463.0" y1="171.3" x2="596.8" y2="171.3" stroke="#555" stroke-width="1"/>
<line x1="463.0" y1="82.5" x2="465.5" y2="82.5" stroke="#8a8a8a" stroke-width="1"/>
<text x="458.3" y="85.4" font-size="8.5" text-anchor="end" fill="#000" >1000</text>
<line x1="463.0" y1="104.7" x2="465.5" y2="104.7" stroke="#8a8a8a" stroke-width="1"/>
<text x="458.3" y="107.60000000000001" font-size="8.5" text-anchor="end" fill="#000" >100</text>
<line x1="463.0" y1="126.9" x2="465.5" y2="126.9" stroke="#8a8a8a" stroke-width="1"/>
<text x="458.3" y="129.8" font-size="8.5" text-anchor="end" fill="#000" >10</text>
<line x1="463.0" y1="149.10000000000002" x2="465.5" y2="149.10000000000002" stroke="#8a8a8a" stroke-width="1"/>
<text x="458.3" y="152.00000000000003" font-size="8.5" text-anchor="end" fill="#000" >1</text>
<line x1="463.0" y1="171.3" x2="465.5" y2="171.3" stroke="#8a8a8a" stroke-width="1"/>
<text x="458.3" y="174.20000000000002" font-size="8.5" text-anchor="end" fill="#000" >0.1</text>
<text x="465.5" y="184.3" font-size="8.5" text-anchor="middle" fill="#000" >0</text>
<text x="509.26666666666665" y="184.3" font-size="8.5" text-anchor="middle" fill="#000" >100</text>
<text x="553.0333333333333" y="184.3" font-size="8.5" text-anchor="middle" fill="#000" >200</text>
<text x="596.8" y="184.3" font-size="8.5" text-anchor="middle" fill="#000" >300</text>
<line x1="465.5" y1="149.10000000000002" x2="596.8" y2="149.10000000000002" stroke="#666" stroke-width="1"/>
<line x1="509.26666666666665" y1="149.10000000000002" x2="509.26666666666665" y2="151.60000000000002" stroke="#666" stroke-width="1"/>
<line x1="553.0333333333333" y1="149.10000000000002" x2="553.0333333333333" y2="151.60000000000002" stroke="#666" stroke-width="1"/>
<polyline points="465.50,139.70 466.05,126.67 466.92,131.93 467.66,133.25 468.45,142.33 469.01,129.75 469.88,132.01 470.54,124.02 471.31,138.47 471.84,132.01 472.44,139.12 473.30,126.40 474.00,132.70 474.87,129.68 475.41,129.76 475.99,116.39 476.48,122.26 477.36,116.23 478.12,117.11 478.68,110.66 479.19,114.46 479.75,108.25 480.66,109.62 481.54,109.58 482.05,113.52 482.79,102.61 483.64,107.64 484.30,99.31 484.80,101.08 485.47,92.52 486.10,92.18 486.63,89.19 487.46,107.61 488.06,105.36 488.64,112.09 489.29,104.67 490.06,100.38 490.66,93.31 491.22,103.82 491.97,105.17 492.62,118.46 493.26,121.54 493.81,127.96 494.59,130.63 495.37,135.11 496.24,127.97 497.05,131.44 497.58,128.27 498.14,137.38 498.73,123.45 499.45,131.82 500.34,122.46 500.84,128.66 501.56,125.75 502.43,130.90 503.15,130.94 503.94,136.18 504.62,135.72 505.14,140.50 506.00,134.17 506.79,135.00 507.30,129.54 508.07,135.25 508.82,123.19 509.50,134.48 510.13,117.80 510.87,127.55 511.71,121.58 512.30,126.78 512.84,117.58 513.74,115.82 514.42,108.68 515.18,107.33 515.89,100.44 516.77,117.98 517.29,116.30 518.03,129.49 518.65,126.94 519.47,135.67 520.33,127.64 520.86,130.08 521.60,125.70 522.44,128.29 523.05,124.09 523.78,128.94 524.40,119.27 524.97,120.60 525.52,114.35 526.20,116.27 527.06,108.91 527.78,114.63 528.46,105.12 529.30,117.16 529.91,106.96 530.79,117.94 531.32,112.10 532.08,117.61 532.79,116.59 533.43,120.78 534.08,119.81 534.93,130.28 535.43,122.59 536.21,129.03 536.81,126.52 537.59,129.28 538.39,125.03 539.11,131.72 539.93,118.63 540.50,126.29 541.09,123.16 541.75,127.25 542.64,122.94 543.15,128.37 543.84,124.60 544.56,130.39 545.09,126.68 545.90,136.77 546.78,128.46 547.68,137.32 548.41,127.83 549.02,128.97 549.53,125.41 550.21,133.09 550.76,119.39 551.47,128.65 552.29,122.48 553.18,133.75 553.88,133.27 554.63,138.20 555.34,136.10 556.23,137.62 556.75,127.69 557.59,130.88 558.13,121.10 558.70,122.00 559.34,116.76 560.22,127.36 560.80,114.01 561.59,122.12 562.37,122.67 563.16,135.04 563.86,125.35 564.63,130.11 565.34,115.30 565.96,119.35 566.78,109.00 567.32,111.24 568.09,103.77 568.77,101.59 569.43,87.57 570.26,91.05 570.76,83.56 571.64,87.86 572.55,83.04 573.04,92.04 573.61,92.41 574.22,107.24 574.93,96.29 575.79,111.10 576.56,113.61 577.32,123.37 578.13,125.35 578.89,138.37 579.71,125.98 580.44,143.39 581.23,135.83 581.96,141.61 582.74,134.78 583.53,138.74 584.38,133.17 585.09,141.25 585.91,132.93 586.69,133.59 587.55,130.83 588.42,139.93 589.25,134.63 589.76,140.65 590.60,131.58 591.44,136.95 591.96,127.19 592.57,134.06 593.08,126.29 593.95,136.63 594.79,137.08 595.37,144.85 596.17,142.65" fill="none" stroke="#a8a8a8" stroke-width="0.9" stroke-linejoin="round"/>
<polyline points="465.50,141.98 466.04,131.59 466.95,137.09 467.64,140.40 468.21,153.00 468.70,140.08 469.57,142.41 470.48,137.37 471.13,142.70 471.91,133.43 472.78,141.47 473.66,134.17 474.40,150.16 475.01,147.22 475.55,154.04 476.34,131.63 477.04,136.59 477.75,125.10 478.45,126.33 479.04,119.03 479.64,120.01 480.48,107.48 481.04,114.61 481.62,113.12 482.11,120.54 482.67,117.73 483.34,118.56 484.07,109.64 484.61,117.70 485.44,116.14 486.34,118.02 486.99,108.22 487.63,119.81 488.21,104.15 489.02,113.69 489.58,105.41 490.11,108.09 490.80,98.97 491.48,106.26 492.27,107.74 492.93,140.49 493.50,145.93 494.29,145.93 494.96,134.61 495.76,136.83 496.34,133.05 497.14,142.09 498.01,134.76 498.92,138.21 499.64,132.11 500.52,135.35 501.27,128.53 501.89,137.00 502.78,128.90 503.39,134.27 504.17,122.78 505.00,120.20 505.67,107.81 506.52,109.10 507.12,106.16 507.72,123.22 508.43,125.51 509.09,133.21 509.91,133.77 510.74,142.38 511.39,141.06 512.04,148.40 512.95,147.33 513.50,154.35 514.02,152.68 514.89,165.74 515.75,151.81 516.25,154.19 517.02,147.31 517.85,149.28 518.47,143.12 519.10,149.06 519.74,138.11 520.39,138.34 520.92,133.55 521.49,138.77 522.21,128.75 522.93,130.35 523.73,125.38 524.62,128.38 525.16,122.80 525.72,131.74 526.46,122.62 527.34,127.97 528.22,124.86 528.92,129.51 529.63,127.32 530.32,130.74 531.02,127.85 531.90,133.43 532.61,131.23 533.37,135.72 533.88,130.38 534.51,130.92 535.06,119.84 535.80,122.58 536.47,116.78 537.00,124.65 537.77,111.03 538.65,112.32 539.22,106.81 539.85,107.55 540.50,98.03 541.29,106.70 541.79,106.68 542.43,114.80 543.20,114.07 544.00,119.22 544.84,113.17 545.52,114.80 546.28,109.45 547.08,115.90 547.76,115.38 548.48,125.21 549.32,120.56 550.13,124.33 550.73,115.43 551.23,122.18 551.85,115.38 552.65,119.17 553.15,114.12 554.00,116.56 554.49,105.43 555.18,112.53 556.08,103.25 556.63,104.68 557.52,96.66 558.26,103.67 559.04,101.87 559.74,111.79 560.40,105.01 561.11,103.14 561.68,99.41 562.25,107.49 563.11,105.19 563.90,107.43 564.42,103.35 565.28,106.54 566.14,103.10 566.89,106.32 567.71,94.63 568.30,99.84 568.87,96.79 569.47,103.32 570.02,103.14 570.86,112.42 571.68,112.78 572.53,120.45 573.27,118.18 574.13,125.82 574.94,123.26 575.64,130.54 576.37,124.13 576.98,142.32 577.50,137.48 578.12,151.54 578.94,148.16 579.83,160.62 580.64,159.63 581.41,170.02 582.12,159.88 582.81,158.00 583.68,144.58 584.56,148.77 585.45,143.63 586.01,153.30 586.88,153.06 587.66,156.21 588.53,148.41 589.31,149.70 589.88,141.70 590.63,147.87 591.17,141.48 591.90,147.32 592.72,149.08 593.26,157.80 593.99,157.51 594.62,169.52 595.35,166.32 595.85,170.99" fill="none" stroke="#111" stroke-width="0.95" stroke-linejoin="round"/>
<text x="531.4" y="193.6" font-size="8.5" text-anchor="middle" fill="#000" >Frequency [Hz]</text>
<text transform="translate(438.4,135.6) rotate(-90)" font-size="8.5" text-anchor="start" fill="#222" style="stroke:none"><tspan font-size="7.2">τ</tspan><tspan font-size="4.6" dy="1.6">ns</tspan><tspan dy="-1.6" dx="0.4"> [-]</tspan></text>
<line x1="470.1" y1="165.4" x2="490.8" y2="165.4" stroke="#333" stroke-width="1"/>
<text x="492.4" y="168.3" font-size="9" text-anchor="start" fill="#000" >Nom</text>
<line x1="515.6" y1="165.4" x2="536.1" y2="165.4" stroke="#bbb" stroke-width="1"/>
<text x="538.0" y="168.3" font-size="9" text-anchor="start" fill="#000" >Dam 80%</text>
</g>
</svg></body></html>
